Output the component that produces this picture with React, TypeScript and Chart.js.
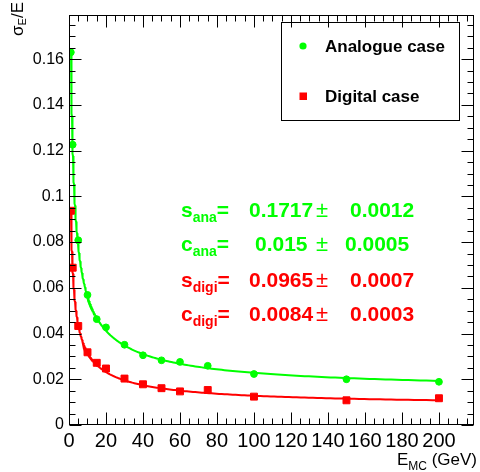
import React, { useEffect, useRef } from "react";
import { Chart, registerables } from "chart.js";

Chart.register(...registerables);

// ---- data ----
const energies = [1, 2, 5, 10, 15, 20, 30, 40, 50, 60, 75, 100, 150, 200];
const analogueRes = [0.163, 0.1226, 0.0808, 0.0569, 0.0463, 0.0427, 0.0351, 0.0305, 0.0283, 0.0276, 0.0259, 0.0223, 0.02, 0.0189];
const digitalRes = [0.0937, 0.0688, 0.0433, 0.0318, 0.0272, 0.0247, 0.0203, 0.0178, 0.0161, 0.0147, 0.0153, 0.0124, 0.0108, 0.0117];

// fit results printed on the chart: sigma/E = sqrt((s/sqrt(E))^2 + c^2)
const analogueFit = { s: 0.1717, c: 0.015 };
const digitalFit = { s: 0.0965, c: 0.0084 };
const fitRange = [1.1, 200];

const fitRows = [
  { sym: "s", sub: "ana", val: "0.1717", err: "0.0012" },
  { sym: "c", sub: "ana", val: "0.015", err: "0.0005" },
  { sym: "s", sub: "digi", val: "0.0965", err: "0.0007" },
  { sym: "c", sub: "digi", val: "0.0084", err: "0.0003" },
];

const xTickValues = [0, 20, 40, 60, 80, 100, 120, 140, 160, 180, 200];
const xTickLabels = ["0", "20", "40", "60", "80", "100", "120", "140", "160", "180", "200"];
const yTickValues = [0, 0.02, 0.04, 0.06, 0.08, 0.1, 0.12, 0.14, 0.16];
const yTickLabels = ["0", "0.02", "0.04", "0.06", "0.08", "0.1", "0.12", "0.14", "0.16"];

const legendLabels = ["Analogue case", "Digital case"];

const X_MAX = 219;
const Y_MAX = 0.1795;
const GREEN = "#00ff00";
const RED = "#ff0000";
const FONT = "'Liberation Sans', Arial, Helvetica, sans-serif";

function fitCurve(p: { s: number; c: number }) {
  const pts: { x: number; y: number }[] = [];
  const n = 300;
  const a = Math.log(fitRange[0]);
  const b = Math.log(fitRange[1]);
  for (let i = 0; i <= n; i++) {
    const e = Math.exp(a + ((b - a) * i) / n);
    pts.push({ x: e, y: Math.sqrt((p.s * p.s) / e + p.c * p.c) });
  }
  return pts;
}

const decorPlugin = {
  id: "rootDecor",
  afterDraw(chart: any) {
    const { ctx, chartArea: a, scales } = chart;
    const x = scales.x;
    const y = scales.y;
    ctx.save();
    ctx.strokeStyle = "#000";
    ctx.lineWidth = 1;
    const L = Math.round(a.left) + 0.5;
    const R = Math.round(a.right) - 0.5;
    const T = Math.round(a.top) + 0.5;
    const B = Math.round(a.bottom) - 0.5;
    ctx.strokeRect(L, T, R - L, B - T);

    // ticks on all four sides, pointing inward
    ctx.beginPath();
    for (let i = 0; i * 5 <= X_MAX; i++) {
      const v = i * 5;
      const len = i % 4 === 0 ? 12 : 6;
      const px = Math.round(x.getPixelForValue(v)) + 0.5;
      ctx.moveTo(px, B);
      ctx.lineTo(px, B - len);
      ctx.moveTo(px, T);
      ctx.lineTo(px, T + len);
    }
    for (let i = 0; i * 0.005 <= Y_MAX; i++) {
      const v = i * 0.005;
      const len = i % 4 === 0 ? 12 : 6;
      const py = Math.round(y.getPixelForValue(v)) + 0.5;
      ctx.moveTo(L, py);
      ctx.lineTo(L + len, py);
      ctx.moveTo(R, py);
      ctx.lineTo(R - len, py);
    }
    ctx.stroke();

    ctx.fillStyle = "#000";
    ctx.textBaseline = "alphabetic";
    ctx.textAlign = "left";

    // x title: E_MC (GeV), right-aligned
    {
      const big = `17px ${FONT}`;
      const small = `12px ${FONT}`;
      ctx.font = big;
      const wE = ctx.measureText("E").width;
      const wRest = ctx.measureText(" (GeV)").width;
      ctx.font = small;
      const wMC = ctx.measureText("MC").width;
      const right = 477;
      const base = 465;
      let xx = right - (wE + wMC + wRest);
      ctx.font = big;
      ctx.fillText("E", xx, base);
      xx += wE;
      ctx.font = small;
      ctx.fillText("MC", xx, base + 5);
      xx += wMC;
      ctx.font = big;
      ctx.fillText(" (GeV)", xx, base);
    }

    // y title: sigma_E/E, rotated 90deg counter-clockwise
    {
      const big = `17px ${FONT}`;
      const small = `11px ${FONT}`;
      ctx.font = big;
      const w1 = ctx.measureText("σ").width;
      const w3 = ctx.measureText("/E").width;
      ctx.font = small;
      const w2 = ctx.measureText("E").width;
      const W = w1 + w2 + w3;
      ctx.save();
      // local (u, v) -> page (23 + v, 2 - u)
      ctx.setTransform(0, -1, 1, 0, 23, 2);
      let xx = -W;
      ctx.font = big;
      ctx.fillText("σ", xx, 0);
      xx += w1;
      ctx.font = small;
      ctx.fillText("E", xx, 3);
      xx += w2;
      ctx.font = big;
      ctx.fillText("/E", xx, 0);
      ctx.restore();
    }

    // legend box
    ctx.strokeRect(281.5, 22.5, 178, 98);
    ctx.font = `bold 17px ${FONT}`;
    ctx.fillStyle = GREEN;
    ctx.beginPath();
    ctx.arc(303, 46, 3.6, 0, Math.PI * 2);
    ctx.fill();
    ctx.fillStyle = RED;
    ctx.fillRect(299.5, 92.5, 7.5, 7.5);
    ctx.fillStyle = "#000";
    ctx.fillText(legendLabels[0], 325, 52);
    ctx.fillText(legendLabels[1], 325, 102);

    // fit result text
    const baselines = [217, 251, 287, 321];
    const valX = [249, 255, 249, 249];
    const errX = [350, 345, 350, 350];
    fitRows.forEach((r, i) => {
      ctx.fillStyle = i < 2 ? GREEN : RED;
      const base = baselines[i];
      let xx = 181;
      ctx.font = `bold 21px ${FONT}`;
      ctx.fillText(r.sym, xx, base);
      xx += ctx.measureText(r.sym).width;
      ctx.font = `bold 14px ${FONT}`;
      ctx.fillText(r.sub, xx, base + 5);
      xx += ctx.measureText(r.sub).width;
      ctx.font = `bold 21px ${FONT}`;
      ctx.fillText("=", xx, base);
      ctx.fillText(r.val, valX[i], base);
      ctx.fillText(r.err, errX[i], base);
      ctx.font = `22px ${FONT}`;
      ctx.fillText("±", 316, base);
    });

    ctx.restore();
  },
};

export default function App() {
  const ref = useRef<HTMLCanvasElement | null>(null);

  useEffect(() => {
    if (!ref.current) return;
    const chart = new Chart(ref.current, {
      type: "scatter",
      data: {
        datasets: [
          {
            label: legendLabels[0],
            data: energies.map((e, i) => ({ x: e, y: analogueRes[i] })),
            showLine: false,
            pointStyle: "circle",
            pointRadius: 3.4,
            pointBorderWidth: 1,
            backgroundColor: GREEN,
            borderColor: GREEN,
          },
          {
            label: legendLabels[1],
            data: energies.map((e, i) => ({ x: e, y: digitalRes[i] })),
            showLine: false,
            pointStyle: "rect",
            pointRadius: 4.9,
            pointBorderWidth: 1,
            backgroundColor: RED,
            borderColor: RED,
          },
          {
            label: "Analogue fit",
            data: fitCurve(analogueFit),
            showLine: true,
            pointRadius: 0,
            borderColor: GREEN,
            borderWidth: 2,
            tension: 0,
          },
          {
            label: "Digital fit",
            data: fitCurve(digitalFit),
            showLine: true,
            pointRadius: 0,
            borderColor: RED,
            borderWidth: 2,
            tension: 0,
          },
        ],
      },
      options: {
        animation: false,
        responsive: false,
        events: [],
        layout: { padding: { left: 0, top: 7, right: 3, bottom: 0 } },
        plugins: {
          legend: { display: false },
          tooltip: { enabled: false },
          title: { display: false },
        },
        scales: {
          x: {
            type: "linear",
            min: 0,
            max: X_MAX,
            grid: { display: false, drawTicks: false },
            border: { display: false },
            afterBuildTicks: (axis: any) => {
              axis.ticks = xTickValues.map((v) => ({ value: v }));
            },
            afterFit: (axis: any) => {
              axis.height = 47;
            },
            ticks: {
              autoSkip: false,
              maxRotation: 0,
              padding: 4,
              color: "#000",
              font: { family: FONT, size: 20 },
              callback: (v: any) => {
                const i = xTickValues.indexOf(Number(v));
                return i >= 0 ? xTickLabels[i] : "";
              },
            },
          },
          y: {
            type: "linear",
            min: 0,
            max: Y_MAX,
            grid: { display: false, drawTicks: false },
            border: { display: false },
            afterBuildTicks: (axis: any) => {
              axis.ticks = yTickValues.map((v) => ({ value: v }));
            },
            afterFit: (axis: any) => {
              axis.width = 69;
            },
            ticks: {
              autoSkip: false,
              padding: 5,
              color: "#000",
              font: { family: FONT, size: 16 },
              callback: (v: any) => {
                const n = Number(v);
                const i = yTickValues.findIndex((t) => Math.abs(t - n) < 1e-9);
                return i >= 0 ? yTickLabels[i] : "";
              },
            },
          },
        },
      },
      plugins: [decorPlugin],
    });
    return () => chart.destroy();
  }, []);

  return (
    <div style={{ position: "fixed", left: 0, top: 0, width: 480, height: 472, background: "#fff" }}>
      <canvas ref={ref} width={480} height={472} style={{ display: "block", width: 480, height: 472 }} />
    </div>
  );
}
